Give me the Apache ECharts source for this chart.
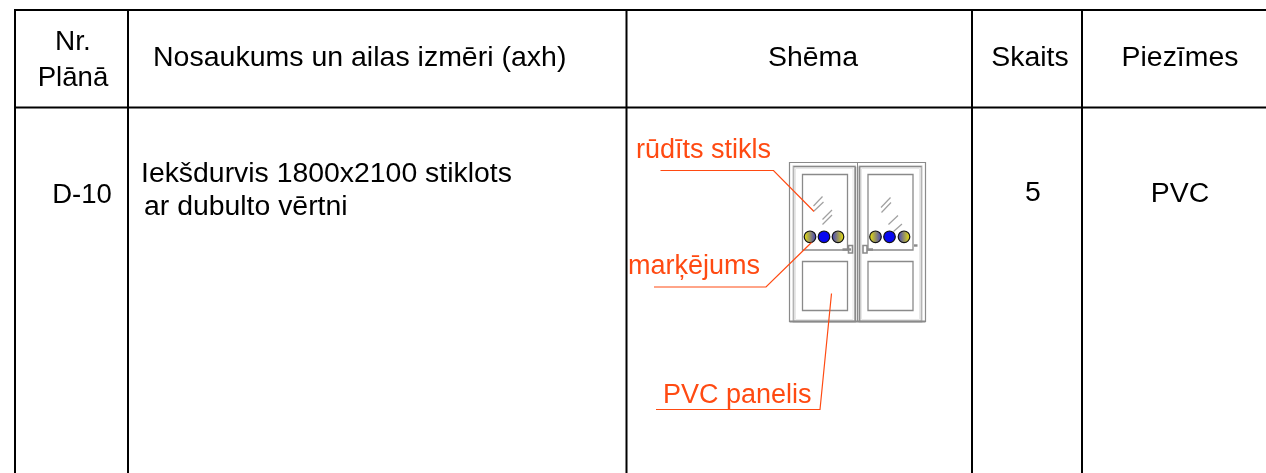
<!DOCTYPE html>
<html><head><meta charset="utf-8">
<style>html,body{margin:0;padding:0;background:#fff}#c{width:1266px;height:473px}</style>
<script src="https://cdn.jsdelivr.net/npm/echarts@6/dist/echarts.min.js"></script>
</head><body><div id="c"></div>
<script>
// Table text
const headerLabels = ['Nr.', 'Plānā', 'Nosaukums un ailas izmēri (axh)', 'Shēma', 'Skaits', 'Piezīmes'];
const rowLabels = ['D-10', 'Iekšdurvis 1800x2100 stiklots', 'ar dubulto vērtni', '5', 'PVC'];
const calloutLabels = ['rūdīts stikls', 'marķējums', 'PVC panelis'];

// Table grid lines (drawing units)
const columnLines = [15, 128, 626.5, 972, 1082];
const rowLines = [10, 107.5];
const tableBottom = 473;

// Drawing: door rectangles [x0, y0, x1, y1]
const doorFrame = [[789.5,162.5,925.5,321.5]];
const leafFrames = [[793.5,166.5,855,321.5],[859.5,166.5,921.5,321.5]];
const innerFrames = [[795.5,168.5,853,319.5],[861.5,168.5,919.5,319.5]];
const glassPanes = [[802.5,174.5,847.5,250],[868,174.5,913,250]];
const solidPanels = [[802.5,261.5,847.5,310.5],[868,261.5,913,310.5]];
const mullion = [[857.5,162.5,857.5,321.5]];
// Glass glints
const glints = [[813.5,206,822.5,196.5],[814,211,823.5,202],[822.5,219.5,832,210],[822.5,224.5,832,215],
  [881,207.5,890.5,197.5],[881.5,212.5,891,202.5],[888.5,224.5,898,215.5],[893.5,231.5,902,224]];
// Door hardware
const handleBars = [[842.5,249.5,851,249.5],[867,249.5,873,249.5],[914,245.5,917.5,245.5]];
const handleBoxes = [[848.5,245.5,852.5,253],[863,245.5,867,253]];
// Marker discs [cx, cy, gradient]
const discsCx = [810,824,838,875.5,889.5,904];
const discsCy = [236.8,236.8,236.8,236.8,236.8,236.8];
const discKinds = ['y','b','r','y','b','r'];
// Leader polylines
const leaders = [
  [[660.5,170.5],[773.5,170.5],[814,211.5]],
  [[654,287],[766,287],[811.5,242.5]],
  [[656,409.5],[820,409.5],[831.5,293.5]]
];

const BLACK = '#000', GREY = '#8a8a8a', LIGHT = '#b4b4b4', ORANGE = '#ff4a12';
const FONT = '"Liberation Sans", Arial, sans-serif';

function render(params, api) {
  const P = (x, y) => api.coord([x, y]);
  const kids = [];
  const line = (x0, y0, x1, y1, stroke, lw) => {
    const a = P(x0, y0), b = P(x1, y1);
    kids.push({type:'line', shape:{x1:a[0],y1:a[1],x2:b[0],y2:b[1]}, style:{stroke, lineWidth:lw}});
  };
  const rect = (r, stroke, lw, fill) => {
    const a = P(r[0], r[1]), b = P(r[2], r[3]);
    kids.push({type:'rect', shape:{x:a[0],y:a[1],width:b[0]-a[0],height:b[1]-a[1]}, style:{stroke, lineWidth:lw, fill:fill||'none'}});
  };
  const text = (s, x, y, size, fill, align) => {
    const a = P(x, y);
    kids.push({type:'text', style:{text:s, x:a[0], y:a[1], font:size+'px '+FONT, fill, textAlign:align||'left', textVerticalAlign:'middle'}});
  };
  // Door
  doorFrame.forEach(r => rect(r, GREY, 1.2));
  leafFrames.forEach(r => rect(r, LIGHT, 1.8));
  innerFrames.forEach(r => rect(r, '#e8e8e8', 1));
  mullion.forEach(s => line(s[0],s[1],s[2],s[3], GREY, 1));
  line(855.5,166.5,855.5,321.5,GREY,1.5); line(859.5,166.5,859.5,321.5,GREY,1.5);
  line(793.5,166.5,855,166.5,GREY,1.2); line(859.5,166.5,921.5,166.5,GREY,1.2);
  line(789.5,321.5,925.5,321.5,GREY,1.8);
  glassPanes.forEach(r => { rect(r, GREY, 1.3); });
  solidPanels.forEach(r => rect(r, GREY, 1.3));
  glints.forEach(s => line(s[0],s[1],s[2],s[3], '#a0a0a0', 1.2));
  handleBars.forEach(s => line(s[0],s[1],s[2],s[3], GREY, 2.4));
  handleBoxes.forEach(r => rect(r, GREY, 1.6));
  discsCx.forEach((cx, i) => {
    const c = P(cx, discsCy[i]);
    const stops = discKinds[i]==='b' ? null : (discKinds[i]==='y'
      ? [{offset:0,color:'#f2ea00'},{offset:1,color:'#3a3ac8'}]
      : [{offset:0,color:'#3a3ac8'},{offset:1,color:'#f2ea00'}]);
    const fill = stops ? {type:'linear',x:0,y:0,x2:1,y2:0,colorStops:stops} : '#0808f0';
    kids.push({type:'circle', shape:{cx:c[0],cy:c[1],r:5.8}, style:{fill, stroke:'#111', lineWidth:1.2}});
  });
  // Leaders
  leaders.forEach(pts => {
    kids.push({type:'polyline', shape:{points:pts.map(p=>P(p[0],p[1]))}, style:{stroke:ORANGE, lineWidth:1.2, fill:'none'}});
  });
  // Table
  columnLines.forEach(x => line(x,9,x,tableBottom,BLACK,2));
  rowLines.forEach(y => line(14,y,1266,y,BLACK,2));
  // Header
  text(headerLabels[0], 73, 42, 28, BLACK, 'center');
  text(headerLabels[1], 73, 78, 27.6, BLACK, 'center');
  text(headerLabels[2], 153, 58, 28.5, BLACK);
  text(headerLabels[3], 813, 58, 28.4, BLACK, 'center');
  text(headerLabels[4], 1030, 58, 28.4, BLACK, 'center');
  text(headerLabels[5], 1180, 58, 28.4, BLACK, 'center');
  // Row
  text(rowLabels[0], 82, 195, 27.5, BLACK, 'center');
  text(rowLabels[1], 141, 174.5, 28.4, BLACK);
  text(rowLabels[2], 144, 207.5, 28.4, BLACK);
  text(rowLabels[3], 1033, 193, 28.4, BLACK, 'center');
  text(rowLabels[4], 1180, 194, 28.4, BLACK, 'center');
  // Callouts
  text(calloutLabels[0], 636, 151, 27, ORANGE);
  text(calloutLabels[1], 628, 267, 27, ORANGE);
  text(calloutLabels[2], 663, 396, 27, ORANGE);
  return {type:'group', children:kids};
}

const chart = echarts.init(document.getElementById('c'), null, {renderer:'canvas'});
chart.setOption({
  animation:false,
  backgroundColor:'#fff',
  grid:{left:0,right:0,top:0,bottom:0},
  xAxis:{type:'value',min:0,max:1266,show:false},
  yAxis:{type:'value',min:0,max:473,inverse:true,show:false},
  series:[{type:'custom',coordinateSystem:'cartesian2d',clip:false,silent:true,renderItem:render,data:[[0,0]]}]
});
</script></body></html>
